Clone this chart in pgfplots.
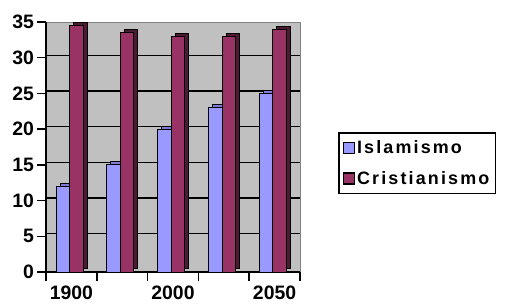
\documentclass[border=0pt]{standalone}
\usepackage{pgfplots}
\pgfplotsset{compat=1.18}
\usepackage{fontspec}
\setmainfont{Liberation Sans}[BoldFont={Liberation Sans Bold}]
\newfontfamily\legfont{Liberation Sans Bold}[LetterSpace=12]
\newfontfamily\tickfont{Liberation Sans Bold}
\definecolor{islam}{HTML}{9999FF}
\definecolor{islamT}{HTML}{7C7CD6}
\definecolor{crist}{HTML}{993366}
\definecolor{cristD}{HTML}{4D1A33}
\definecolor{wall}{HTML}{C0C0C0}
\begin{document}
\begin{tikzpicture}
\useasboundingbox (0,0) rectangle (514bp,304bp);
\begin{axis}[
  at={(46bp,32bp)}, anchor=south west,
  scale only axis, width=254bp, height=250bp,
  xmin=-0.5, xmax=4.5, ymin=0, ymax=35,
  ytick={0,5,...,35},
  xtick={-0.5,0.5,...,4.5}, xticklabels={},
  extra x ticks={0,2,4}, extra x tick labels={1900,2000,2050},
  extra x tick style={major tick length=0pt, tick label style={yshift=-10.5bp}},
  extra y ticks={5,10,...,30}, extra y tick labels={,,,,,},
  extra y tick style={ymajorgrids=true, major tick length=0pt},
  grid style={black, line width=1.3bp, yshift=2.5bp},
  axis x line*=bottom, axis y line*=left,
  axis line style={black, line width=1.5bp, -},
  major tick style={black, line width=1.5bp},
  tick align=outside, major tick length=8.5bp,
  axis background/.style={fill=wall, draw=gray, line width=1bp},
  ticklabel style={font=\tickfont\fontsize{19.5}{21}\selectfont},
  /pgf/number format/assume math mode=true,
  ybar, bar width=13.5bp,
  clip=false,
  legend style={at={(1.15,0.56)}, anchor=north west, draw=black, line width=1.5bp,
    fill=white, font=\legfont\fontsize{18}{20}\selectfont,
    row sep=12bp, inner xsep=4bp, inner ysep=6bp},
  legend cell align=left,
]
% Islamismo depth
\addplot[fill=islamT, draw=black, line width=1bp, bar shift=-4.5bp, yshift=3bp, forget plot]
  coordinates {(0,12) (1,15) (2,20) (3,23) (4,25)};
% Islamismo front
\addplot[fill=islam, draw=black, line width=1bp, bar shift=-8.5bp,
  legend image code/.code={\draw[fill=islam, draw=black, line width=1.2bp] (0bp,-5.5bp) rectangle (11bp,5.5bp);}]
  coordinates {(0,12) (1,15) (2,20) (3,23) (4,25)};
\addlegendentry{Islamismo}
% Cristianismo depth
\addplot[fill=cristD, draw=black, line width=1bp, bar shift=9bp, yshift=3bp, forget plot]
  coordinates {(0,34.5) (1,33.5) (2,33) (3,33) (4,34)};
% Cristianismo front
\addplot[fill=crist, draw=black, line width=1bp, bar shift=5bp,
  legend image code/.code={\draw[fill=crist, draw=black, line width=1.2bp] (0bp,-5.5bp) rectangle (11bp,5.5bp);}]
  coordinates {(0,34.5) (1,33.5) (2,33) (3,33) (4,34)};
\addlegendentry{Cristianismo}
\end{axis}
\end{tikzpicture}
\end{document}
